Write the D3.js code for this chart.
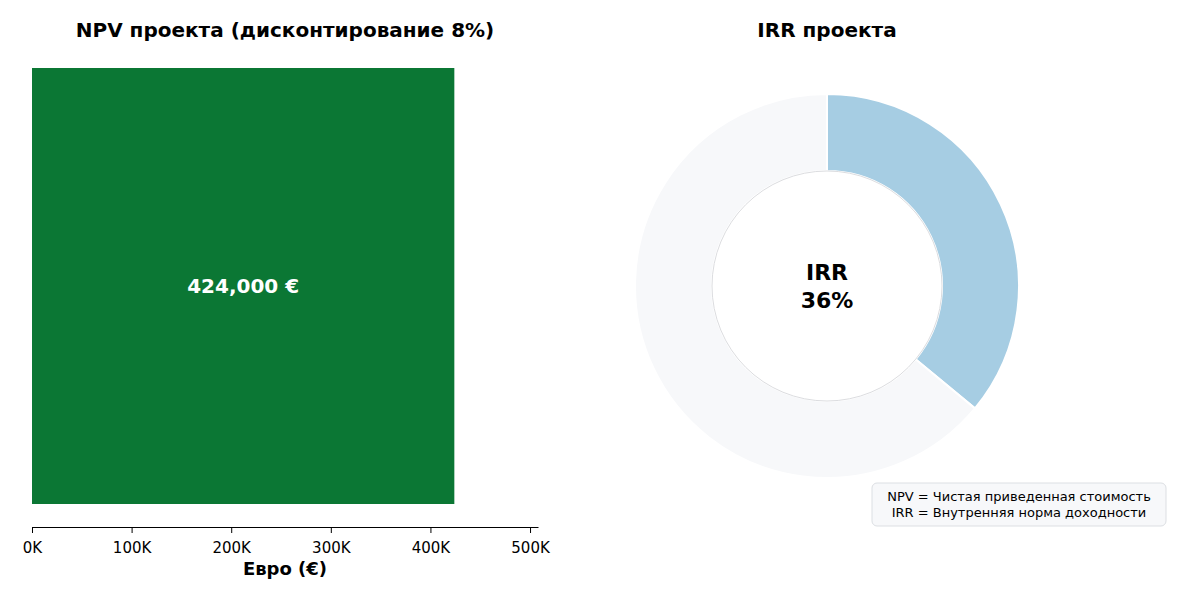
<!DOCTYPE html>
<html><head><meta charset="utf-8">
<script src="https://cdn.jsdelivr.net/npm/d3@7"></script>
<style>body{margin:0;background:#fff}text{font-family:"DejaVu Sans",sans-serif}</style>
</head><body><div id="chart"></div>
<script>
const npvLabel = ['NPV'];
const npvValues = [424000];
const xTicks = [0, 100000, 200000, 300000, 400000, 500000];
const irrParts = ['IRR', 'Остаток'];
const irrValues = [36, 64];
const legendLines = ['NPV = Чистая приведенная стоимость', 'IRR = Внутренняя норма доходности'];

const svg = d3.select('#chart').append('svg').attr('width', 1200).attr('height', 600);

// left: NPV bar
const x = d3.scaleLinear().domain([0, 508000]).range([32, 538]);
const y = d3.scaleBand().domain(npvLabel).range([68, 504]);

svg.append('text').attr('x', 285).attr('y', 37).attr('text-anchor', 'middle')
  .style('font-size', '20px').style('font-weight', 'bold').text('NPV проекта (дисконтирование 8%)');

svg.selectAll('rect.bar').data(npvValues).enter().append('rect')
  .attr('class', 'bar')
  .attr('x', x(0)).attr('y', (d, i) => y(npvLabel[i]))
  .attr('width', d => x(d) - x(0)).attr('height', y.bandwidth())
  .attr('fill', '#0b7734');

svg.selectAll('text.val').data(npvValues).enter().append('text')
  .attr('class', 'val')
  .attr('x', d => (x(0) + x(d)) / 2).attr('y', (d, i) => y(npvLabel[i]) + y.bandwidth() / 2)
  .attr('dy', '0.35em').attr('text-anchor', 'middle')
  .style('font-size', '20px').style('font-weight', 'bold').style('fill', '#fff')
  .text(d => d3.format(',')(d) + ' €');

const ax = svg.append('g').attr('transform', 'translate(0,527)')
  .call(d3.axisBottom(x).tickValues(xTicks).tickFormat(d => d / 1000 + 'K').tickSizeOuter(0));
ax.selectAll('text').style('font-size', '15px').attr('dy', '1.1em').style('font-family', '"DejaVu Sans",sans-serif');
ax.select('.domain').attr('stroke', '#000');

svg.append('text').attr('x', 285).attr('y', 575).attr('text-anchor', 'middle')
  .style('font-size', '18px').style('font-weight', 'bold').text('Евро (€)');

// right: IRR donut
svg.append('text').attr('x', 827).attr('y', 37).attr('text-anchor', 'middle')
  .style('font-size', '20px').style('font-weight', 'bold').text('IRR проекта');

const cx = 827, cy = 286;
const pie = d3.pie().sort(null)(irrValues);
const arc = d3.arc().innerRadius(115).outerRadius(192);
const colors = d3.scaleOrdinal().domain(irrParts).range(['#a6cde3', '#f7f8fa']);
const g = svg.append('g').attr('transform', `translate(${cx},${cy})`);
g.selectAll('path').data(pie).enter().append('path')
  .attr('d', arc).attr('fill', (d, i) => colors(irrParts[i]))
  .attr('stroke', '#fff').attr('stroke-width', 2);
g.append('circle').attr('r', 115).attr('fill', '#fff').attr('stroke', '#dcdde0').attr('stroke-width', 1);
g.append('text').attr('y', -6).attr('text-anchor', 'middle')
  .style('font-size', '22px').style('font-weight', 'bold').text(irrParts[0]);
g.append('text').attr('y', 22).attr('text-anchor', 'middle')
  .style('font-size', '22px').style('font-weight', 'bold').text(irrValues[0] + '%');

// legend note
svg.append('rect').attr('x', 872).attr('y', 483).attr('width', 294).attr('height', 43)
  .attr('rx', 5).attr('fill', '#f7f8fa').attr('stroke', '#dcdfe3');
svg.selectAll('text.note').data(legendLines).enter().append('text')
  .attr('class', 'note').attr('x', 1019).attr('y', (d, i) => 501 + i * 16)
  .attr('text-anchor', 'middle').style('font-size', '13px').text(d => d);
</script></body></html>
